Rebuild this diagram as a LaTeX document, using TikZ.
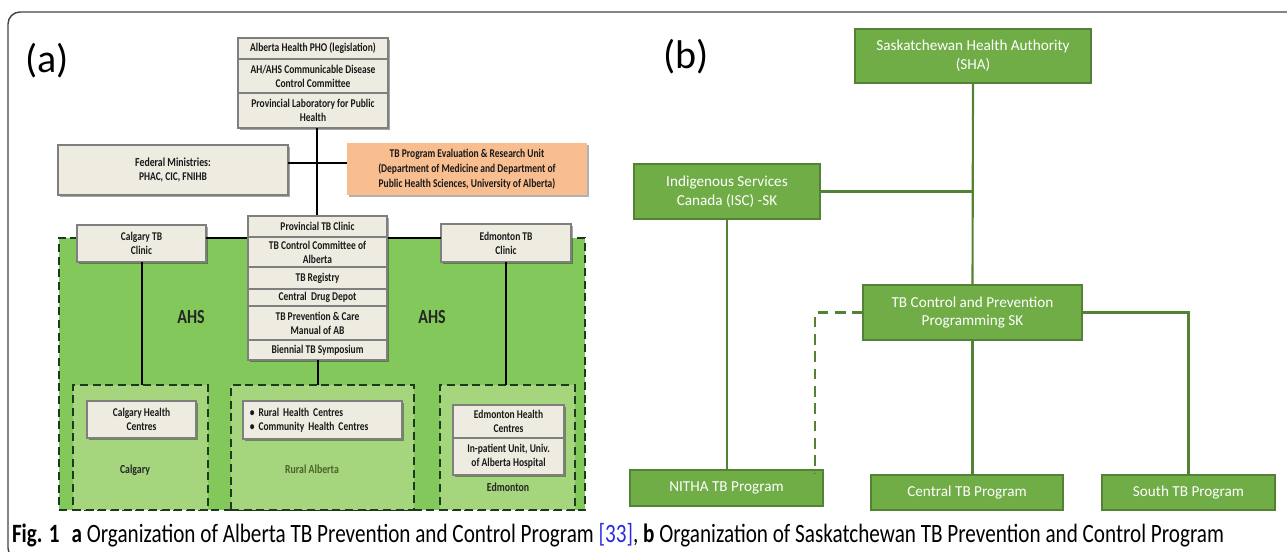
\documentclass[tikz,border=0pt]{standalone}
\usepackage{fontspec}
\usepackage{graphicx}
\setmainfont{Carlito}
\newfontfamily\condfont[FakeStretch=0.8]{Carlito}
\newfontfamily\capfont[FakeStretch=0.8]{Carlito}
\usetikzlibrary{shadows}
\definecolor{beige}{HTML}{EEECE1}
\definecolor{beigeline}{HTML}{7F7F7F}
\definecolor{orangebox}{HTML}{F9BE90}
\definecolor{ahsgreen}{HTML}{82C85A}
\definecolor{ahslight}{HTML}{A5D67D}
\definecolor{dashgreen}{HTML}{1E3A1E}
\definecolor{skgreen}{HTML}{70AD47}
\definecolor{skborder}{HTML}{548235}
\definecolor{olive}{HTML}{4F6228}
\definecolor{framegray}{HTML}{444444}
\definecolor{citeblue}{HTML}{2A2AE0}
\newcommand{\mybox}[7]{\node[#1, minimum width={(#5-#3)*0.75pt}, minimum height={(#6-#4)*0.75pt}] (#2) at ({(#3+#5)/2},{(#4+#6)/2}) {#7};}
\begin{document}
\begin{tikzpicture}[x=0.75pt,y=-0.75pt,
  every node/.style={inner sep=0pt, outer sep=0pt},
  tan/.style={draw=beigeline, fill=beige, line width=1.1pt, align=center,
     font=\condfont\bfseries\fontsize{8.9}{10.6}\selectfont, text=black!90,
     drop shadow={shadow xshift=1.2pt, shadow yshift=-1.2pt, opacity=0.35, fill=black}},
  orng/.style={fill=orangebox, align=center,
     font=\condfont\bfseries\fontsize{8.9}{11.2}\selectfont, text=black!90,
     drop shadow={shadow xshift=1.2pt, shadow yshift=-1.2pt, opacity=0.3, fill=black}},
  region/.style={fill=ahsgreen, draw=dashgreen, line width=1.4pt, dash pattern=on 6pt off 3.5pt},
  subregion/.style={fill=ahslight, draw=dashgreen, line width=1.4pt, dash pattern=on 6pt off 3.5pt},
  blk/.style={draw=black, line width=1.5pt},
  lbl/.style={font=\condfont\bfseries\fontsize{9.2}{10}\selectfont, text=black!85},
  skbox/.style={fill=skgreen, draw=skborder, line width=1.4pt, align=center, text=white,
     font=\fontsize{11.4}{14.2}\selectfont},
  skline/.style={draw=skborder, line width=1.6pt},
  panel/.style={font=\fontsize{30}{34}\selectfont, text=black}
]
\useasboundingbox (0,0) rectangle (1287,552);
% frame
\draw[framegray, line width=1.1pt, rounded corners=9pt] (1295,12) -- (8,12) -- (8,560) -- (40,560);

% ---------------- panel (a) ----------------
\node[panel] (pa) at (47,61) {(a)};

% AHS region
\mybox{region}{ahs}{59}{238}{585}{510}{}
\mybox{subregion}{rcal}{73}{385}{208}{510}{}
\mybox{subregion}{rrur}{231}{385}{414}{510}{}
\mybox{subregion}{redm}{440}{385}{575}{510}{}

% top stack
\mybox{tan}{a1}{238}{38}{388}{59}{Alberta Health PHO (legislation)}
\mybox{tan}{a2}{238}{59}{388}{93}{AH/AHS Communicable Disease\\Control Committee}
\mybox{tan}{a3}{238}{93}{388}{128}{Provincial Laboratory for Public\\Health}

\mybox{tan}{fed}{58}{145}{288}{195}{\fontsize{9.2}{12}\selectfont Federal Ministries:\\PHAC, CIC, FNIHB}
\mybox{orng}{tbpe}{347}{143}{587}{195}{TB Program Evaluation \& Research Unit\\(Department of Medicine and Department of\\Public Health Sciences, University of Alberta)}

% clinics
\mybox{tan}{calg}{77}{225}{206}{262}{Calgary TB\\Clinic}
\mybox{tan}{edm}{441}{224}{571}{262}{Edmonton TB\\Clinic}

% trunk line points
\coordinate (trunk) at (317,216);
\coordinate (hy) at (317,163);

% connectors (a)
\draw[blk] (a3.south -| trunk) -- (trunk);
\draw[blk] (fed.east |- hy) -- (tbpe.west |- hy);
\draw[blk] (calg.east |- ahs.north) -- (edm.west |- ahs.north);
\draw[blk] (calg.south) -- (calg.south |- rcal.north);
\draw[blk] (edm.south) -- (edm.south |- redm.north);

% provincial stack
\mybox{tan}{p1}{248}{216}{387}{237}{Provincial TB Clinic}
\mybox{tan}{p2}{248}{237}{387}{267}{TB Control Committee of\\Alberta}
\mybox{tan}{p3}{248}{267}{387}{289}{TB Registry}
\mybox{tan}{p4}{248}{289}{387}{306}{Central\ \ Drug Depot}
\mybox{tan}{p5}{248}{306}{387}{340}{TB Prevention \& Care\\Manual of AB}
\mybox{tan}{p6}{248}{340}{387}{360}{Biennial TB Symposium}
\draw[blk] (p6.south) -- (p6.south |- rrur.north);

\node[font=\condfont\bfseries\fontsize{15}{16}\selectfont, text=black!85] (ahs1) at (191,317) {AHS};
\node[font=\condfont\bfseries\fontsize{15}{16}\selectfont, text=black!85] (ahs2) at (432,317) {AHS};

% inner boxes
\mybox{tan}{chc}{87}{401}{196}{438}{Calgary Health\\Centres}
\mybox{tan, align=left, text width=109pt}{rhc}{243}{401}{402}{439}{\textbullet\ Rural Health Centres\\\textbullet\ Community Health Centres}
\mybox{tan}{ehc}{453}{405}{564}{438}{Edmonton Health\\Centres}
\mybox{tan}{inp}{453}{438}{564}{475}{In-patient Unit, Univ.\\of Alberta Hospital}

\node[lbl] (lcal) at (135,470) {Calgary};
\node[lbl, text=olive] (lrur) at (312,469) {Rural Alberta};
\node[lbl] (ledm) at (508,487) {Edmonton};

% ---------------- panel (b) ----------------
\node[panel] (pb) at (686,57) {(b)};

\mybox{skbox}{sha}{855}{29}{1091}{83}{Saskatchewan Health Authority\\(SHA)}
\mybox{skbox}{isc}{634}{164}{820}{219}{Indigenous Services\\Canada (ISC) -SK}
\mybox{skbox}{tbc}{863}{285}{1082}{340}{TB Control and Prevention\\Programming SK}
\mybox{skbox}{nitha}{630}{470}{823}{506}{NITHA TB Program}
\mybox{skbox}{cen}{871}{475}{1063}{510}{Central TB Program}
\mybox{skbox}{sou}{1102}{475}{1275}{510}{South TB Program}

\coordinate (dd) at (815,474);
\draw[skline] (sha.south) -- (tbc.north);
\draw[skline] (isc.east) -- (isc.east -| sha.south);
\draw[skline] (isc.south) -- (isc.south |- nitha.north);
\draw[skline] (tbc.south) -- (tbc.south |- cen.north);
\draw[skline] (tbc.east) -| (sou.north);
\draw[skline, dash pattern=on 8pt off 5pt] (tbc.west) -| (dd);

% caption
\node[anchor=west] (cap) at (12,535) {\resizebox{909pt}{!}{\capfont\fontsize{14}{16}\selectfont\textbf{Fig. 1}\hspace{0.45em}\textbf{a} Organization of Alberta TB Prevention and Control Program \textcolor{citeblue}{[33]}, \textbf{b} Organization of Saskatchewan TB Prevention and Control Program}};
\end{tikzpicture}
\end{document}
